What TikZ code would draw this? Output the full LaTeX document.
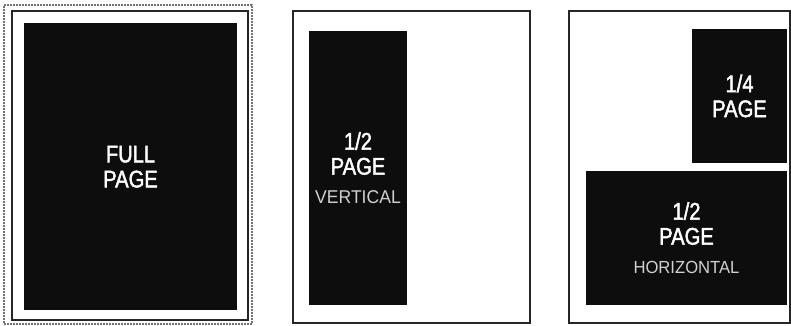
\documentclass[tikz,border=0pt]{standalone}
\usepackage{fontspec}
\usepackage{xcolor}
\usepackage{tikz}
\newfontfamily\titlefont[FakeStretch=0.84,FakeBold=1.8]{Liberation Sans}
\newfontfamily\subfont[FakeStretch=0.95]{Liberation Sans}

\begin{document}
\begin{tikzpicture}[
  x=1pt,
  y=-1pt,
  page/.style={draw=black!85, line width=1.8pt, fill=white, inner sep=0pt, outer sep=0pt},
  bleed/.style={draw=black!55, line width=1.6pt, dash pattern=on 1.6pt off 1.4pt, inner sep=0pt},
  ad/.style={fill=black!95, inner sep=0pt, outer sep=0pt, align=center, text=white,
    font=\titlefont\fontsize{24}{25}\selectfont}
]
  \useasboundingbox (0,0) rectangle (791,326);

  % full page, with its bleed line
  \node[bleed, minimum width=248pt, minimum height=319pt] (bleed) at (128,164.5) {};
  \node[page, minimum width=236pt, minimum height=309pt] (page1) at (130,165.5) {};
  \node[ad, minimum width=213pt, minimum height=287pt] (full) at (130.5,166.5) {\\[-8pt]FULL\\PAGE};

  % half page, vertical
  \node[page, minimum width=237pt, minimum height=312pt] (page2) at (411.5,167) {};
  \node[ad, minimum width=98pt, minimum height=274pt] (halfv) at (358,168)
    {1/2\\PAGE\\[4pt]{\subfont\fontsize{18.5}{20}\selectfont\color{white!82!black}VERTICAL}};

  % quarter and half page, horizontal
  \node[page, minimum width=221pt, minimum height=312pt] (page3) at (679.5,167) {};
  \node[ad, minimum width=95pt, minimum height=134pt] (quarter) at (739.5,96) {1/4\\PAGE};
  \node[ad, minimum width=201pt, minimum height=134pt] (halfh) at (686.5,238)
    {1/2\\PAGE\\[4pt]{\subfont\fontsize{17.5}{20}\selectfont\color{white!82!black}HORIZONTAL}};
\end{tikzpicture}
\end{document}
